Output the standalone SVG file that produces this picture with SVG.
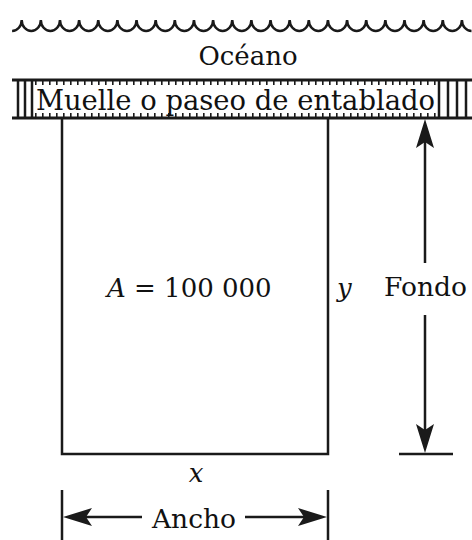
<svg xmlns="http://www.w3.org/2000/svg" width="472" height="540" viewBox="0 0 472 540">
<style>
text{font-family:"DejaVu Serif","Liberation Serif",serif;fill:#111;}
.ln{stroke:#1a1a1a;fill:none;stroke-width:2.5;}
.bw{stroke:#1a1a1a;fill:none;stroke-width:3;}
.tick{stroke:#1a1a1a;fill:none;stroke-width:4;stroke-dasharray:1.6 5.4;}
.ah{fill:#1a1a1a;stroke:none;}
.it{font-style:italic;}
</style>
<rect width="472" height="540" fill="#fff"/>
<g id="waves">
<path class="ln" stroke-width="2" d="M12.1,31 A9.57,11 0 0 0 21.7,20 a9.57,11 0 0 0 19.14,0 a9.57,11 0 0 0 19.14,0 a9.57,11 0 0 0 19.14,0 a9.57,11 0 0 0 19.14,0 a9.57,11 0 0 0 19.14,0 a9.57,11 0 0 0 19.14,0 a9.57,11 0 0 0 19.14,0 a9.57,11 0 0 0 19.14,0 a9.57,11 0 0 0 19.14,0 a9.57,11 0 0 0 19.14,0 a9.57,11 0 0 0 19.14,0 a9.57,11 0 0 0 19.14,0 a9.57,11 0 0 0 19.14,0 a9.57,11 0 0 0 19.14,0 a9.57,11 0 0 0 19.14,0 a9.57,11 0 0 0 19.14,0 a9.57,11 0 0 0 19.14,0 a9.57,11 0 0 0 19.14,0 a9.57,11 0 0 0 19.14,0 a9.57,11 0 0 0 19.14,0 a9.57,11 0 0 0 19.14,0 a9.57,11 0 0 0 19.14,0 a9.57,11 0 0 0 19.14,0 a9.57,11 0 0 0 9.57,11"/>
</g>
<g id="ocean">
<text x="248" y="65" font-size="26" text-anchor="middle">Océano</text>
</g>
<g id="boardwalk">
<path class="bw" d="M12,80 H472 M12,118 H472"/>
<path class="ln" d="M18,80 V118 M25,80 V118 M32,80 V118 M439,80 V118 M448,80 V118 M457,80 V118 M466,80 V118"/>
<path class="tick" d="M35,83 H437 M35,115 H437"/>
<text x="235.5" y="110" font-size="27.4" text-anchor="middle">Muelle o paseo de entablado</text>
</g>
<g id="lot">
<path class="ln" d="M62,118 V454 H328 V118"/>
<text x="107" y="297" font-size="26"><tspan class="it">A</tspan> = 100 000</text>
<text x="337" y="297" font-size="26" class="it">y</text>
<text x="196" y="482" font-size="26" class="it" text-anchor="middle">x</text>
</g>
<g id="fondo-label">
<text x="425.5" y="296" font-size="26.5" text-anchor="middle">Fondo</text>
</g>
<g id="ancho-label">
<text x="194" y="528" font-size="26.5" text-anchor="middle">Ancho</text>
</g>
<g id="connectors">
<path class="ln" d="M425,140 V263 M425,315 V431 M399,454 H453"/>
<path class="ah" d="M425,119 L434,148 L425,142 L416,148 Z"/>
<path class="ah" d="M425,453 L434,424 L425,430 L416,424 Z"/>
<path class="ln" d="M62,490 V540 M328,490 V540 M84,517 H142 M245,517 H306"/>
<path class="ah" d="M63,517 L92,508 L86,517 L92,526 Z"/>
<path class="ah" d="M327,517 L298,508 L304,517 L298,526 Z"/>
</g>
</svg>
